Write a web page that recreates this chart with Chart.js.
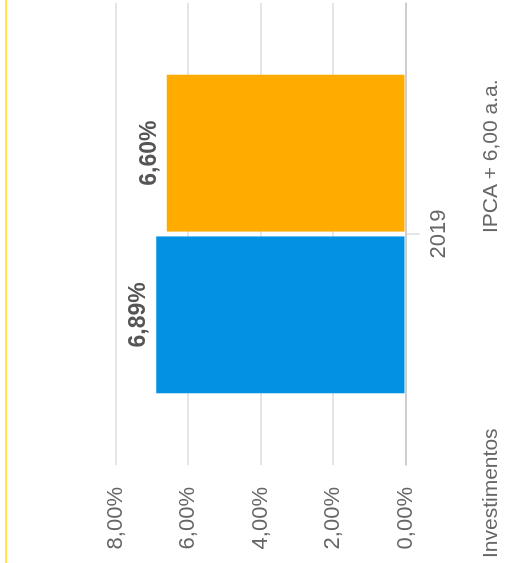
<!DOCTYPE html>
<html lang="pt-BR">
<head>
    <meta charset="UTF-8">
    <title>Investimentos x IPCA</title>
    <script src="https://cdn.jsdelivr.net/npm/chart.js"></script>
    <style>
        body {
            margin: 0;
            width: 510px;
            height: 563px;
            overflow: hidden;
            background: #fff;
            font-family: 'Liberation Sans', Arial, sans-serif;
        }
        .edge {
            position: absolute;
            left: 5px;
            top: 0;
            width: 2px;
            height: 563px;
            background: #fde84a;
        }
        /* the whole chart is turned a quarter turn to the left */
        .rotated {
            position: absolute;
            left: 0;
            top: 0;
            width: 563px;
            height: 510px;
            transform-origin: 0 0;
            transform: translateY(563px) rotate(-90deg);
        }
        .legend span {
            position: absolute;
            top: 477px;
            font-size: 21px;
            line-height: 26px;
            color: #666;
            white-space: nowrap;
        }
    </style>
</head>
<body>
    <div class="edge"></div>
    <div class="rotated">
        <canvas id="chart" width="563" height="510"></canvas>
        <div class="legend">
            <span id="leg0" style="left: 5px;"></span>
            <span id="leg1" style="left: 330px;"></span>
        </div>
    </div>

    <script>
        const categories = ["2019"];
        const seriesNames = ["Investimentos", "IPCA + 6,00 a.a."];
        const investimentos = [6.89];
        const ipca = [6.60];
        const yTicks = [0, 2, 4, 6, 8];
        const colors = ["#0291e3", "#ffab00"];

        const pct = v => v.toFixed(2).replace(".", ",") + "%";

        document.getElementById("leg0").textContent = seriesNames[0];
        document.getElementById("leg1").textContent = seriesNames[1];

        const valueLabels = {
            id: "valueLabels",
            afterDatasetsDraw(chart) {
                const ctx = chart.ctx;
                ctx.save();
                ctx.font = "bold 23px 'Liberation Sans', Arial, sans-serif";
                ctx.fillStyle = "#555";
                ctx.textAlign = "center";
                ctx.textBaseline = "bottom";
                chart.data.datasets.forEach((ds, i) => {
                    chart.getDatasetMeta(i).data.forEach((bar, j) => {
                        ctx.fillText(pct(ds.data[j]), bar.x, bar.y - 6);
                    });
                });
                ctx.restore();
            }
        };

        Chart.defaults.font.family = "'Liberation Sans', Arial, sans-serif";
        Chart.defaults.color = "#666";

        new Chart(document.getElementById("chart").getContext("2d"), {
            type: "bar",
            data: {
                labels: categories,
                datasets: [
                    { label: seriesNames[0], data: investimentos, backgroundColor: colors[0] },
                    { label: seriesNames[1], data: ipca, backgroundColor: colors[1] }
                ]
            },
            options: {
                responsive: false,
                animation: false,
                devicePixelRatio: 1,
                categoryPercentage: 0.7,
                barPercentage: 0.97,
                layout: { padding: { top: 116, right: 3, bottom: 52, left: 0 } },
                plugins: {
                    legend: { display: false },
                    tooltip: { enabled: false }
                },
                scales: {
                    x: {
                        grid: { drawOnChartArea: false, offset: false, tickLength: 14, lineWidth: 2 },
                        border: { display: true, width: 2 },
                        ticks: { font: { size: 22 }, padding: 6 }
                    },
                    y: {
                        min: yTicks[0],
                        max: yTicks[yTicks.length - 1],
                        afterBuildTicks: axis => { axis.ticks = yTicks.map(v => ({ value: v })); },
                        afterFit: axis => { axis.width = 98; },
                        grid: { drawTicks: false, lineWidth: 2 },
                        border: { display: false },
                        ticks: { font: { size: 22 }, padding: 22, callback: v => pct(v) }
                    }
                }
            },
            plugins: [valueLabels]
        });
    </script>
</body>
</html>
